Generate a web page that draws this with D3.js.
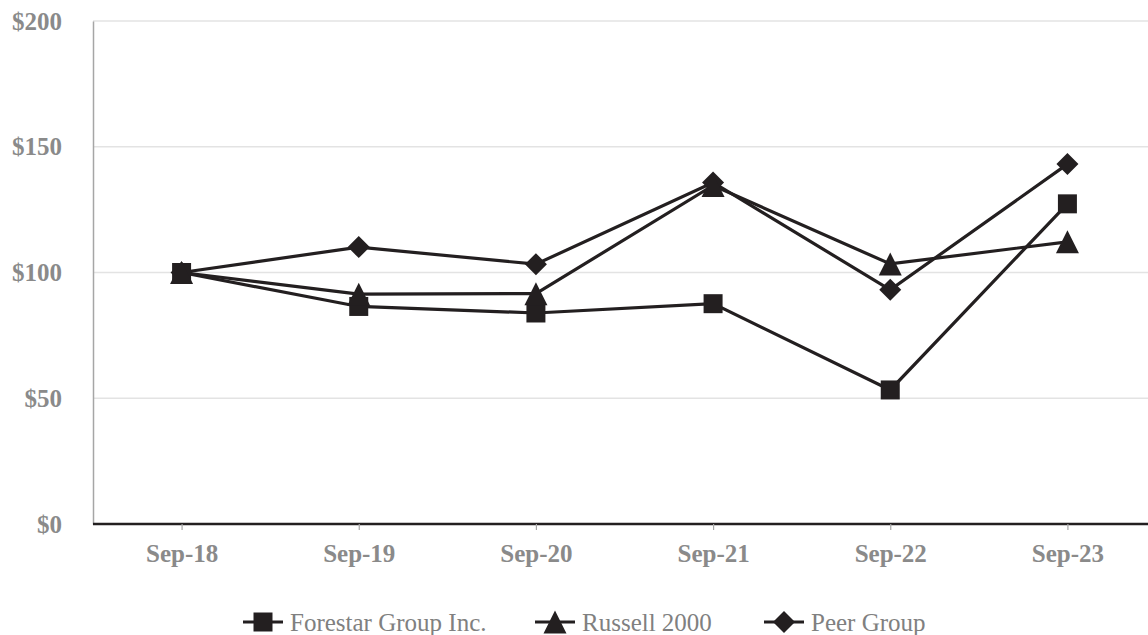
<!DOCTYPE html>
<html>
<head>
<meta charset="utf-8">
<script src="https://cdn.jsdelivr.net/npm/d3@7"></script>
<style>
  html, body { margin: 0; padding: 0; background: #fff; }
  svg { display: block; }
</style>
</head>
<body>
<svg id="chart" width="1148" height="635"></svg>
<script>
const categories = ["Sep-18", "Sep-19", "Sep-20", "Sep-21", "Sep-22", "Sep-23"];
const forestar = [100, 86.5, 83.9, 87.6, 53.3, 127.3];
const russell = [100, 91.4, 91.6, 134.6, 103.4, 112.2];
const peer = [100, 110.1, 103.3, 135.8, 93.1, 143.1];
const seriesNames = ["Forestar Group Inc.", "Russell 2000", "Peer Group"];
const yTicks = [0, 50, 100, 150, 200];

(function () {
const svg = d3.select("#chart");
const mLeft = 93, mRight = 1156, mTop = 21, mBottom = 524;
const lineColor = "#231f20";
const textGray = "#8a8a8a";

const x = d3.scalePoint().domain(categories).range([mLeft, mRight]).padding(0.5);
const y = d3.scaleLinear().domain([0, 200]).range([mBottom, mTop]);

// custom symbol types: size = bounding box width (px)
const tallTriangle = {
  draw(ctx, size) {
    const w = size / 2;
    ctx.moveTo(0, -w);
    ctx.lineTo(w, w);
    ctx.lineTo(-w, w);
    ctx.closePath();
  }
};
const squareDiamond = {
  draw(ctx, size) {
    const w = size / 2;
    ctx.moveTo(0, -w);
    ctx.lineTo(w, 0);
    ctx.lineTo(0, w);
    ctx.lineTo(-w, 0);
    ctx.closePath();
  }
};
const squareBox = {
  draw(ctx, size) {
    const w = size / 2;
    ctx.rect(-w, -w, size, size);
  }
};

// gridlines
svg.append("g").selectAll("line").data(yTicks.filter(d => d > 0)).join("line")
  .attr("x1", mLeft).attr("x2", 1148)
  .attr("y1", d => y(d)).attr("y2", d => y(d))
  .attr("stroke", "#e3e3e3").attr("stroke-width", 1.5);

// y axis
const yAxis = svg.append("g").attr("transform", `translate(${mLeft},0)`)
  .call(d3.axisLeft(y).tickValues(yTicks).tickSize(0).tickPadding(31).tickFormat(d => "$" + d));
yAxis.select(".domain").attr("stroke", "#a6a6a6").attr("stroke-width", 1.5);
yAxis.selectAll("text")
  .attr("fill", textGray).attr("font-family", "Liberation Serif, serif")
  .attr("font-weight", "bold").attr("font-size", 25);

// x axis
const xAxis = svg.append("g").attr("transform", `translate(0,${mBottom})`)
  .call(d3.axisBottom(x).tickSize(6).tickPadding(14));
xAxis.select(".domain").attr("stroke", lineColor).attr("stroke-width", 2.5)
  .attr("d", `M${mLeft},0H1148`);
xAxis.selectAll(".tick line").attr("stroke", "#a6a6a6").attr("stroke-width", 1.2);
xAxis.selectAll("text")
  .attr("fill", textGray).attr("font-family", "Liberation Serif, serif")
  .attr("font-weight", "bold").attr("font-size", 25);

const series = [
  { name: seriesNames[0], values: forestar, symbol: squareBox, size: 19 },
  { name: seriesNames[1], values: russell, symbol: tallTriangle, size: 23 },
  { name: seriesNames[2], values: peer, symbol: squareDiamond, size: 22 }
];

const line = d3.line().x((d, i) => x(categories[i])).y(d => y(d));

series.forEach(s => {
  svg.append("path").datum(s.values)
    .attr("d", line).attr("fill", "none")
    .attr("stroke", lineColor).attr("stroke-width", 3.2)
    .attr("stroke-linejoin", "miter");
});
[series[2], series[0], series[1]].forEach(s => {
  svg.append("g").selectAll("path").data(s.values).join("path")
    .attr("transform", (d, i) => `translate(${x(categories[i])},${y(d)})`)
    .attr("d", d3.symbol().type(s.symbol).size(s.size))
    .attr("fill", lineColor);
});

// legend
const legendX = [263, 555, 784];
const legY = 622;
const leg = svg.append("g");
series.forEach((s, i) => {
  const g = leg.append("g").attr("transform", `translate(${legendX[i]},${legY})`);
  g.append("line").attr("x1", -20).attr("x2", 20).attr("y1", 0).attr("y2", 0)
    .attr("stroke", lineColor).attr("stroke-width", 3.2);
  g.append("path").attr("d", d3.symbol().type(s.symbol).size(s.size)).attr("fill", lineColor);
  g.append("text").attr("x", 27).attr("y", 9)
    .attr("font-family", "Liberation Serif, serif").attr("font-size", 25)
    .attr("fill", "#808080").text(s.name);
});
})();
</script>
</body>
</html>
